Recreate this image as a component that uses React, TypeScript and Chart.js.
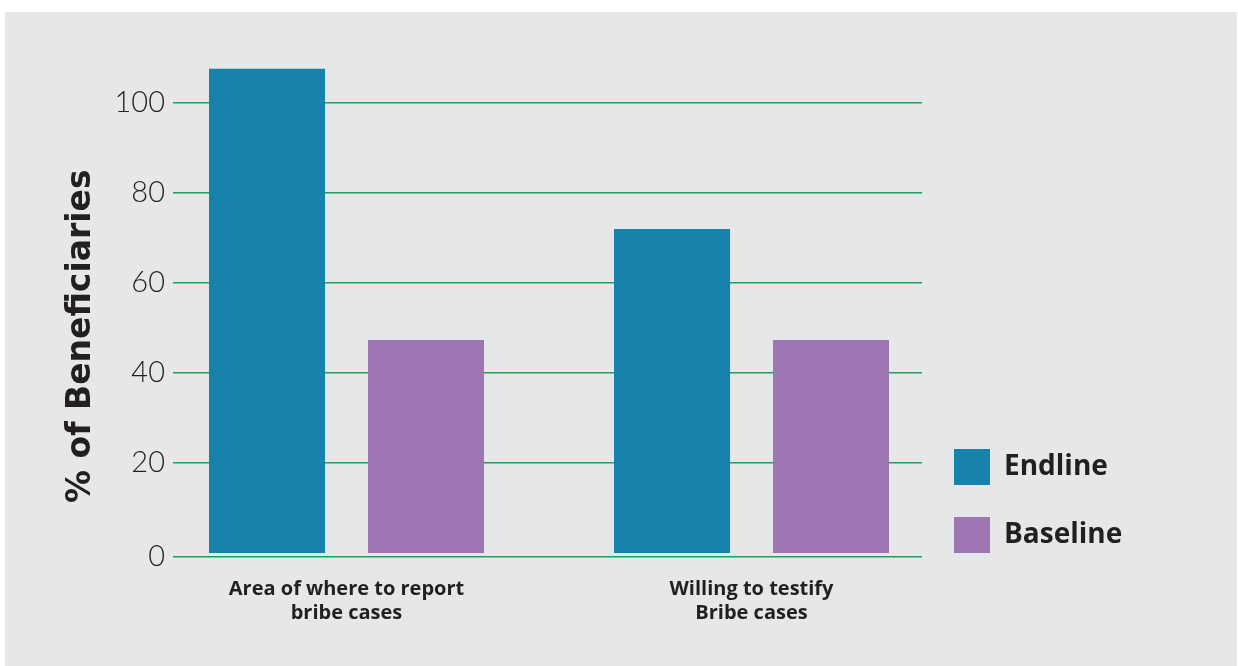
import React, { useEffect, useRef } from "react";
import { Chart, registerables } from "chart.js";

Chart.register(...registerables);

// ---- data ----
const CATEGORY_LABELS: string[][] = [
  ["Area of where to report", "bribe cases"],
  ["Willing to testify", "Bribe cases"],
];
const SERIES_NAMES = ["Endline", "Baseline"];
const ENDLINE_VALUES = [107.6, 72.0];
const BASELINE_VALUES = [47.3, 47.3];
const Y_TICK_VALUES = [0, 20, 40, 60, 80, 100];
const Y_AXIS_TITLE = "% of Beneficiaries";

// ---- styling ----
const COLORS = ["#1783ac", "#9e76b3"];
const TEXT = "#231f20";
const GRID = "#1ba05e";
const PANEL = "#e6e7e9";

const Y_MIN = -0.9;
const Y_MAX = 110;
const X_MIN = -0.4284;
const X_MAX = 1.421;

const LEGEND_FONT_SIZE = 28;
const LEGEND_BOX = 36;
const LEGEND_PAD = 32;
const PLOT_RIGHT = 917; // canvas x where the plot area ends

export default function App() {
  const ref = useRef<HTMLCanvasElement | null>(null);

  useEffect(() => {
    if (!ref.current) return;
    const toPoints = (vals: number[]) => vals.map((v, i) => ({ x: i, y: v }));
    const chart = new Chart(ref.current, {
      type: "bar",
      data: {
        datasets: [
          {
            label: SERIES_NAMES[0],
            data: toPoints(ENDLINE_VALUES),
            backgroundColor: COLORS[0],
            borderWidth: 0,
            categoryPercentage: 0.785,
            barPercentage: 0.73,
          },
          {
            label: SERIES_NAMES[1],
            data: toPoints(BASELINE_VALUES),
            backgroundColor: COLORS[1],
            borderWidth: 0,
            categoryPercentage: 0.785,
            barPercentage: 0.73,
          },
        ] as any,
      },
      options: {
        animation: false,
        responsive: true,
        maintainAspectRatio: false,
        layout: {
          padding: (c: any) => {
            const g = c.chart.ctx as CanvasRenderingContext2D;
            g.save();
            g.font = `bold ${LEGEND_FONT_SIZE}px 'Open Sans', sans-serif`;
            const tw = Math.max(...SERIES_NAMES.map((s) => g.measureText(s).width));
            g.restore();
            const legendW = LEGEND_PAD + LEGEND_BOX + LEGEND_FONT_SIZE / 2 + tw + 10;
            return { top: 46, right: Math.max(0, c.chart.width - PLOT_RIGHT - legendW), bottom: 81, left: 0 };
          },
        },
        plugins: {
          tooltip: { enabled: false },
          legend: {
            position: "right",
            align: "end",
            labels: {
              boxWidth: LEGEND_BOX,
              boxHeight: LEGEND_BOX,
              padding: LEGEND_PAD,
              color: TEXT,
              font: { family: "'Open Sans', sans-serif", size: LEGEND_FONT_SIZE, weight: "bold" },
            },
          },
        },
        scales: {
          x: {
            type: "linear",
            offset: false,
            min: X_MIN,
            max: X_MAX,
            grid: { display: false, drawTicks: false, offset: false },
            border: { display: false },
            afterBuildTicks: (scale: any) => {
              scale.ticks = CATEGORY_LABELS.map((_, i) => ({ value: i }));
            },
            afterFit: (scale: any) => {
              scale.height = 28;
            },
            ticks: {
              autoSkip: false,
              maxRotation: 0,
              mirror: true,
              padding: -44,
              color: TEXT,
              font: { family: "'Open Sans', sans-serif", size: 20, weight: "bold", lineHeight: 1.2 },
              callback: (_v: any, i: number) => CATEGORY_LABELS[i],
            },
          },
          y: {
            type: "linear",
            position: "left",
            min: Y_MIN,
            max: Y_MAX,
            grid: { color: GRID, lineWidth: 1.6, drawTicks: false },
            border: { display: false },
            afterBuildTicks: (scale: any) => {
              scale.ticks = Y_TICK_VALUES.map((v) => ({ value: v === 0 ? scale.min : v }));
            },
            afterFit: (scale: any) => {
              scale.width = 168;
            },
            ticks: {
              padding: 8,
              color: TEXT,
              font: { family: "Lato, sans-serif", size: 29, weight: 300 },
              callback: (_v: any, i: number) => String(Y_TICK_VALUES[i]),
            },
            title: {
              display: true,
              text: Y_AXIS_TITLE + "     ",
              color: TEXT,
              padding: { top: 57, bottom: 0 },
              font: { family: "'DejaVu Sans', sans-serif", size: 33, weight: "bold" },
            },
          },
        },
      } as any,
    });
    return () => chart.destroy();
  }, []);

  return (
    <div style={{ position: "fixed", inset: 0, background: "#ffffff" }}>
      <div
        style={{
          position: "absolute",
          left: 5,
          top: 12,
          width: 1232,
          height: 654,
          background: PANEL,
        }}
      >
        <canvas ref={ref} />
      </div>
    </div>
  );
}
